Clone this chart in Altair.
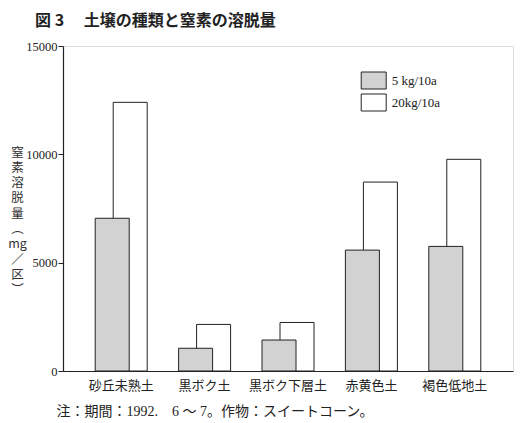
import altair as alt
import pandas as pd

soils = ["砂丘未熟土", "黒ボク土", "黒ボク下層土", "赤黄色土", "褐色低地土"]
rates = ["5 kg/10a", "20kg/10a"]
n5 = [7050, 1050, 1430, 5580, 5750]
n20 = [12400, 2150, 2240, 8720, 9770]
y_ticks = [0, 5000, 10000, 15000]

title_text = "図 3　 土壌の種類と窒素の溶脱量"
y_title = ["窒", "素", "溶", "脱", "量", "︵", "mg", "／", "区", "︶"]
note_text = "注：期間：1992.　6 ～ 7。作物：スイートコーン。"

rows = []
for s, a, b in zip(soils, n5, n20):
    rows.append({"soil": s, "rate": rates[0], "value": a})
    rows.append({"soil": s, "rate": rates[1], "value": b})
df = pd.DataFrame(rows)

FONT = "Liberation Serif, Noto Sans CJK JP, serif"

x = alt.X(
    "soil:N",
    sort=soils,
    scale=alt.Scale(paddingInner=0, paddingOuter=0.198),
    axis=alt.Axis(
        title=note_text,
        labelAngle=0,
        ticks=False,
        labelPadding=8,
        labelFontSize=13,
        labelFont=FONT,
        labelColor="#222",
        domainColor="#222",
        domainWidth=1.2,
        titleFont=FONT,
        titleFontSize=14,
        titleFontWeight="normal",
        titleColor="#222",
        titleAnchor="start",
        titleAlign="left",
        titleBaseline="middle",
        titleX=-7,
        titleY=40,
    ),
)
y = alt.Y(
    "value:Q",
    scale=alt.Scale(domain=[0, 15000], nice=False),
    axis=alt.Axis(
        values=y_ticks,
        format="d",
        grid=False,
        tickSize=5,
        tickColor="#222",
        domainColor="#222",
        domainWidth=1.2,
        labelFont=FONT,
        labelFontSize=12.5,
        labelColor="#222",
        labelPadding=1,
        title=y_title,
        titleAngle=360,
        titleAlign="center",
        titleBaseline="top",
        titleX=-46,
        titleY=100,
        titleLineHeight=15.3,
        titleFont="Noto Sans CJK JP",
        titleFontSize=12.5,
        titleFontWeight="normal",
        titleColor="#333",
    ),
)
color = alt.Color(
    "rate:N",
    scale=alt.Scale(domain=rates, range=["#d2d2d2", "#ffffff"]),
    legend=alt.Legend(
        title=None,
        orient="none",
        legendX=301.7,
        legendY=25.5,
        padding=0,
        symbolType="M-1.47,-1H1.47V1H-1.47Z",
        symbolSize=289,
        symbolStrokeColor="#222",
        symbolStrokeWidth=1,
        symbolOpacity=1,
        rowPadding=0,
        labelOffset=9,
        labelFont=FONT,
        labelFontSize=13,
        labelColor="#222",
    ),
)

base = alt.Chart(df).encode(x=x, y=y, color=color)
b20 = base.transform_filter(alt.datum.rate == rates[1]).mark_bar(
    width=34, xOffset=9, stroke="#222", strokeWidth=1, opacity=1
)
b5 = base.transform_filter(alt.datum.rate == rates[0]).mark_bar(
    width=34, xOffset=-9, stroke="#222", strokeWidth=1, opacity=1
)

chart = (
    alt.layer(b20, b5)
    .properties(
        width=450,
        height=325,
        autosize="none",
        padding={"left": 55, "top": 38, "right": 6, "bottom": 52},
        title=alt.TitleParams(
            text=title_text,
            anchor="start",
            frame="group",
            dx=-28,
            offset=11,
            font="Noto Sans CJK JP",
            fontSize=16,
            fontWeight="bold",
            color="#222",
        ),
    )
    .configure_view(stroke=None)
    .configure(background="white")
)

chart.save("out.html", embed_options={"renderer": "svg", "actions": False})
